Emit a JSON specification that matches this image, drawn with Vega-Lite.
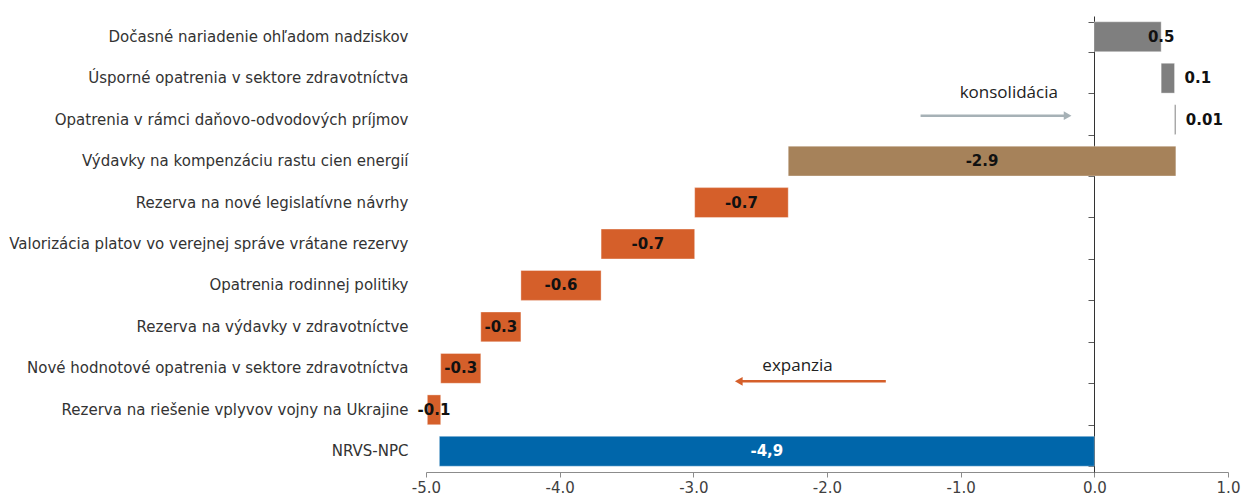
{
  "$schema": "https://vega.github.io/schema/vega-lite/v6.json",
  "width": 802,
  "height": 456,
  "autosize": {"type": "none"},
  "padding": {"left": 426, "top": 16, "right": 17, "bottom": 27},
  "background": "white",
  "config": {"view": {"stroke": null}, "font": "DejaVu Sans"},
  "datasets": {
    "items": [
      {"name": "Dočasné nariadenie ohľadom nadziskov", "start": 0, "end": 0.5, "label": "0.5", "group": "konsolidacia"},
      {"name": "Úsporné opatrenia v sektore zdravotníctva", "start": 0.5, "end": 0.6, "label": "0.1", "group": "konsolidacia"},
      {"name": "Opatrenia v rámci daňovo-odvodových príjmov ", "start": 0.6, "end": 0.61, "label": "0.01", "group": "konsolidacia"},
      {"name": "Výdavky na kompenzáciu rastu cien energií", "start": 0.61, "end": -2.29, "label": "-2.9", "group": "energie"},
      {"name": "Rezerva na nové legislatívne návrhy", "start": -2.29, "end": -2.99, "label": "-0.7", "group": "expanzia"},
      {"name": "Valorizácia platov vo verejnej správe vrátane rezervy", "start": -2.99, "end": -3.69, "label": "-0.7", "group": "expanzia"},
      {"name": "Opatrenia rodinnej politiky", "start": -3.69, "end": -4.29, "label": "-0.6", "group": "expanzia"},
      {"name": "Rezerva na výdavky v zdravotníctve", "start": -4.29, "end": -4.59, "label": "-0.3", "group": "expanzia"},
      {"name": "Nové hodnotové opatrenia v sektore zdravotníctva", "start": -4.59, "end": -4.89, "label": "-0.3", "group": "expanzia"},
      {"name": "Rezerva na riešenie vplyvov vojny na Ukrajine", "start": -4.89, "end": -4.99, "label": "-0.1", "group": "expanzia"},
      {"name": "NRVS-NPC", "start": 0, "end": -4.9, "label": "-4,9", "group": "spolu"}
    ],
    "notes": [
      {"note": "konsolidácia", "row": "Opatrenia v rámci daňovo-odvodových príjmov ", "from": -1.3, "to": -0.2, "tx": -0.64},
      {"note": "expanzia", "row": "Nové hodnotové opatrenia v sektore zdravotníctva", "from": -1.56, "to": -2.66, "tx": -2.22}
    ]
  },
  "resolve": {"axis": {"y": "independent"}},
  "layer": [
    {
      "data": {"name": "items"},
      "mark": {"type": "bar", "stroke": "white", "strokeOpacity": 0.35, "strokeWidth": 1},
      "encoding": {
        "y": {
          "field": "name", "type": "nominal", "sort": null,
          "scale": {
            "domain": [
              "Dočasné nariadenie ohľadom nadziskov",
              "Úsporné opatrenia v sektore zdravotníctva",
              "Opatrenia v rámci daňovo-odvodových príjmov ",
              "Výdavky na kompenzáciu rastu cien energií",
              "Rezerva na nové legislatívne návrhy",
              "Valorizácia platov vo verejnej správe vrátane rezervy",
              "Opatrenia rodinnej politiky",
              "Rezerva na výdavky v zdravotníctve",
              "Nové hodnotové opatrenia v sektore zdravotníctva",
              "Rezerva na riešenie vplyvov vojny na Ukrajine",
              "NRVS-NPC"
            ],
            "paddingInner": 0.28, "paddingOuter": 0.14
          },
          "axis": {
            "title": null, "domain": false, "ticks": false, "tickSize": 0,
            "labelFont": "DejaVu Sans", "labelFontSize": 15, "labelColor": "#333333",
            "labelPadding": 18, "labelLimit": 0
          }
        },
        "x": {
          "field": "start", "type": "quantitative", "title": null,
          "scale": {"domain": [-5, 1], "nice": false, "zero": false},
          "axis": {
            "title": null, "values": [-5, -4, -3, -2, -1, 0, 1], "format": ".1f",
            "labelExpr": "replace(datum.label, '−', '-')", "grid": false,
            "labelFlush": false, "labelOverlap": false,
            "domainColor": "#8c8c8c", "tickColor": "#8c8c8c", "tickSize": 5,
            "labelFont": "DejaVu Sans", "labelFontSize": 15, "labelColor": "#404040", "labelPadding": 3
          }
        },
        "x2": {"field": "end"},
        "color": {
          "field": "group", "type": "nominal", "legend": null,
          "scale": {"domain": ["konsolidacia", "energie", "expanzia", "spolu"], "range": ["#7f7f7f", "#a6825a", "#d55f2a", "#0066aa"]}
        }
      }
    },
    {
      "data": {"name": "items"},
      "transform": [
        {"filter": "datum.group !== 'konsolidacia'"},
        {"fold": ["start", "end"], "as": ["edge", "v"]},
        {"aggregate": [{"op": "mean", "field": "v", "as": "mid"}], "groupby": ["name", "label", "group"]}
      ],
      "mark": {"type": "text", "font": "DejaVu Sans", "fontWeight": "bold", "fontSize": 15, "align": "center", "baseline": "middle"},
      "encoding": {
        "y": {
          "field": "name", "type": "nominal", "sort": null,
          "axis": {
            "title": null, "orient": "left", "offset": -668, "labels": false,
            "ticks": true, "tickBand": "extent", "tickSize": 6, "tickColor": "#595959",
            "domain": true, "domainColor": "#333333", "grid": false
          }
        },
        "x": {"field": "mid", "type": "quantitative", "title": null},
        "text": {"field": "label"},
        "color": {"condition": {"test": "datum.group === 'spolu'", "value": "white"}, "value": "#111111"}
      }
    },
    {
      "data": {"name": "items"},
      "transform": [{"filter": "datum.label === '0.5'"}],
      "mark": {"type": "text", "font": "DejaVu Sans", "fontWeight": "bold", "fontSize": 15, "align": "center", "baseline": "middle", "color": "#111111"},
      "encoding": {
        "y": {"field": "name", "type": "nominal", "sort": null, "axis": null},
        "x": {"field": "end", "type": "quantitative", "title": null},
        "text": {"field": "label"}
      }
    },
    {
      "data": {"name": "items"},
      "transform": [{"filter": "datum.group === 'konsolidacia' && datum.label !== '0.5'"}],
      "mark": {"type": "text", "font": "DejaVu Sans", "fontWeight": "bold", "fontSize": 15, "align": "left", "baseline": "middle", "dx": 10, "color": "#111111"},
      "encoding": {
        "y": {"field": "name", "type": "nominal", "sort": null, "axis": null},
        "x": {"field": "end", "type": "quantitative", "title": null},
        "text": {"field": "label"}
      }
    },
    {
      "data": {"name": "notes"},
      "transform": [{"filter": "datum.note === 'konsolidácia'"}],
      "layer": [
        {
          "mark": {"type": "rule", "strokeWidth": 2.5, "color": "#a6b1b6", "yOffset": -4},
          "encoding": {
            "y": {"field": "row", "type": "nominal", "axis": null},
            "x": {"field": "from", "type": "quantitative", "title": null},
            "x2": {"field": "to"}
          }
        },
        {
          "mark": {"type": "point", "shape": "triangle-right", "filled": true, "size": 80, "opacity": 1, "color": "#a6b1b6", "yOffset": -4},
          "encoding": {
            "y": {"field": "row", "type": "nominal", "axis": null},
            "x": {"field": "to", "type": "quantitative", "title": null}
          }
        },
        {
          "mark": {"type": "text", "font": "Open Sans", "fontSize": 17, "color": "#222222", "align": "center", "baseline": "middle", "dy": -27},
          "encoding": {
            "y": {"field": "row", "type": "nominal", "axis": null},
            "x": {"field": "tx", "type": "quantitative", "title": null},
            "text": {"field": "note"}
          }
        }
      ]
    },
    {
      "data": {"name": "notes"},
      "transform": [{"filter": "datum.note === 'expanzia'"}],
      "layer": [
        {
          "mark": {"type": "rule", "strokeWidth": 2.5, "color": "#d55f2a", "yOffset": 13},
          "encoding": {
            "y": {"field": "row", "type": "nominal", "axis": null},
            "x": {"field": "from", "type": "quantitative", "title": null},
            "x2": {"field": "to"}
          }
        },
        {
          "mark": {"type": "point", "shape": "triangle-left", "filled": true, "size": 80, "opacity": 1, "color": "#d55f2a", "yOffset": 13},
          "encoding": {
            "y": {"field": "row", "type": "nominal", "axis": null},
            "x": {"field": "to", "type": "quantitative", "title": null}
          }
        },
        {
          "mark": {"type": "text", "font": "Open Sans", "fontSize": 17, "color": "#222222", "align": "center", "baseline": "middle", "dy": -2},
          "encoding": {
            "y": {"field": "row", "type": "nominal", "axis": null},
            "x": {"field": "tx", "type": "quantitative", "title": null},
            "text": {"field": "note"}
          }
        }
      ]
    }
  ]
}
